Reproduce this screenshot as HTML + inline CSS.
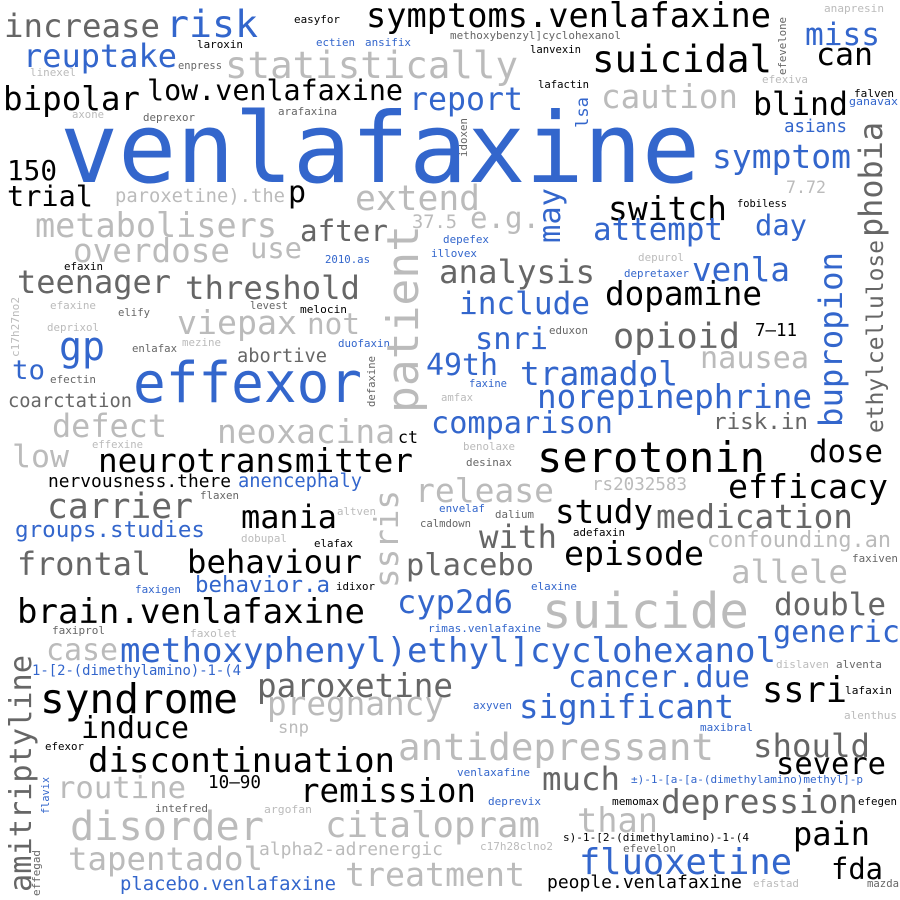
<!DOCTYPE html>
<html><head><meta charset="utf-8"><style>
html,body{margin:0;padding:0;background:#fff;width:900px;height:900px;overflow:hidden}
svg{display:block}
text{font-family:"DejaVu Sans Mono","Liberation Mono",monospace;}
.b{fill:#3366cc}.k{fill:#000}.g{fill:#666}.l{fill:#bbb}
</style></head><body>
<svg width="900" height="900" viewBox="0 0 900 900" xmlns="http://www.w3.org/2000/svg">
<g lengthAdjust="spacingAndGlyphs">
<text class="b" x="60" y="182" font-size="97" textLength="640" lengthAdjust="spacingAndGlyphs">venlafaxine</text>
<text class="g" x="4" y="37" font-size="32" textLength="156" lengthAdjust="spacingAndGlyphs">increase</text>
<text class="b" x="166" y="37" font-size="37" textLength="92" lengthAdjust="spacingAndGlyphs">risk</text>
<text class="k" x="294" y="23" font-size="11" textLength="46" lengthAdjust="spacingAndGlyphs">easyfor</text>
<text class="k" x="366" y="27" font-size="33.5" textLength="405" lengthAdjust="spacingAndGlyphs">symptoms.venlafaxine</text>
<text class="l" x="824" y="12" font-size="11" textLength="60" lengthAdjust="spacingAndGlyphs">anapresin</text>
<text class="b" x="316" y="46" font-size="11" textLength="39" lengthAdjust="spacingAndGlyphs">ectien</text>
<text class="b" x="365" y="46" font-size="11" textLength="46" lengthAdjust="spacingAndGlyphs">ansifix</text>
<text class="g" x="450" y="39" font-size="11" textLength="171" lengthAdjust="spacingAndGlyphs">methoxybenzyl]cyclohexanol</text>
<text class="k" x="530" y="53" font-size="11" textLength="51" lengthAdjust="spacingAndGlyphs">lanvexin</text>
<text class="g" font-size="11" textLength="58" lengthAdjust="spacingAndGlyphs" transform="translate(786,75) rotate(-90)">efevelone</text>
<text class="b" x="805" y="45" font-size="31" textLength="75" lengthAdjust="spacingAndGlyphs">miss</text>
<text class="k" x="816" y="65" font-size="31" textLength="57" lengthAdjust="spacingAndGlyphs">can</text>
<text class="k" x="592" y="72" font-size="37" textLength="180" lengthAdjust="spacingAndGlyphs">suicidal</text>
<text class="l" x="225" y="78" font-size="37" textLength="293" lengthAdjust="spacingAndGlyphs">statistically</text>
<text class="k" x="197" y="48" font-size="11" textLength="46" lengthAdjust="spacingAndGlyphs">laroxin</text>
<text class="b" x="23" y="67" font-size="32" textLength="154" lengthAdjust="spacingAndGlyphs">reuptake</text>
<text class="g" x="178" y="69" font-size="11" textLength="44" lengthAdjust="spacingAndGlyphs">enpress</text>
<text class="l" x="30" y="76" font-size="11" textLength="46" lengthAdjust="spacingAndGlyphs">linexel</text>
<text class="k" x="538" y="88" font-size="11" textLength="51" lengthAdjust="spacingAndGlyphs">lafactin</text>
<text class="l" x="762" y="83" font-size="11" textLength="46" lengthAdjust="spacingAndGlyphs">efexiva</text>
<text class="k" x="854" y="97" font-size="11" textLength="40" lengthAdjust="spacingAndGlyphs">falven</text>
<text class="b" x="849" y="105" font-size="11" textLength="49" lengthAdjust="spacingAndGlyphs">ganavax</text>
<text class="k" x="3" y="110" font-size="32.5" textLength="137" lengthAdjust="spacingAndGlyphs">bipolar</text>
<text class="k" x="147" y="100" font-size="28.4" textLength="256" lengthAdjust="spacingAndGlyphs">low.venlafaxine</text>
<text class="b" x="409" y="110" font-size="31.6" textLength="114" lengthAdjust="spacingAndGlyphs">report</text>
<text class="l" x="601" y="108" font-size="32.5" textLength="137" lengthAdjust="spacingAndGlyphs">caution</text>
<text class="k" x="753" y="115" font-size="31.6" textLength="95" lengthAdjust="spacingAndGlyphs">blind</text>
<text class="b" font-size="17" textLength="31" lengthAdjust="spacingAndGlyphs" transform="translate(588,128) rotate(-90)">lsa</text>
<text class="g" x="278" y="115" font-size="11" textLength="59" lengthAdjust="spacingAndGlyphs">arafaxina</text>
<text class="l" x="72" y="118" font-size="11" textLength="32" lengthAdjust="spacingAndGlyphs">axone</text>
<text class="g" x="143" y="121" font-size="11" textLength="52" lengthAdjust="spacingAndGlyphs">deprexor</text>
<text class="g" font-size="11" textLength="39" lengthAdjust="spacingAndGlyphs" transform="translate(467,157) rotate(-90)">idoxen</text>
<text class="b" x="784" y="132" font-size="17.4" textLength="63" lengthAdjust="spacingAndGlyphs">asians</text>
<text class="g" font-size="32" textLength="115" lengthAdjust="spacingAndGlyphs" transform="translate(882,237) rotate(-90)">phobia</text>
<text class="b" x="712" y="168" font-size="33" textLength="139" lengthAdjust="spacingAndGlyphs">symptom</text>
<text class="l" x="786" y="193" font-size="16.6" textLength="40" lengthAdjust="spacingAndGlyphs">7.72</text>
<text class="k" x="7" y="180" font-size="27.7" textLength="50" lengthAdjust="spacingAndGlyphs">150</text>
<text class="k" x="7" y="206" font-size="28.6" textLength="86" lengthAdjust="spacingAndGlyphs">trial</text>
<text class="l" x="115" y="202" font-size="18.8" textLength="170" lengthAdjust="spacingAndGlyphs">paroxetine).the</text>
<text class="k" x="288" y="202" font-size="30">p</text>
<text class="l" x="355" y="210" font-size="34.6" textLength="125" lengthAdjust="spacingAndGlyphs">extend</text>
<text class="l" x="412" y="228" font-size="18.7" textLength="45" lengthAdjust="spacingAndGlyphs">37.5</text>
<text class="l" x="470" y="228" font-size="29" textLength="70" lengthAdjust="spacingAndGlyphs">e.g.</text>
<text class="b" font-size="30" textLength="55" lengthAdjust="spacingAndGlyphs" transform="translate(560,243) rotate(-90)">may</text>
<text class="k" x="608" y="220" font-size="33" textLength="119" lengthAdjust="spacingAndGlyphs">switch</text>
<text class="k" x="737" y="207" font-size="10.5" textLength="50" lengthAdjust="spacingAndGlyphs">fobiless</text>
<text class="b" x="593" y="240" font-size="31" textLength="130" lengthAdjust="spacingAndGlyphs">attempt</text>
<text class="b" x="755" y="235" font-size="28.6" textLength="52" lengthAdjust="spacingAndGlyphs">day</text>
<text class="l" x="35" y="237" font-size="33.5" textLength="242" lengthAdjust="spacingAndGlyphs">metabolisers</text>
<text class="g" x="300" y="241" font-size="29" textLength="88" lengthAdjust="spacingAndGlyphs">after</text>
<text class="l" x="73" y="262" font-size="32.6" textLength="157" lengthAdjust="spacingAndGlyphs">overdose</text>
<text class="l" x="250" y="258" font-size="28.7" textLength="52" lengthAdjust="spacingAndGlyphs">use</text>
<text class="b" x="325" y="263" font-size="11" textLength="45" lengthAdjust="spacingAndGlyphs">2010.as</text>
<text class="k" x="64" y="270" font-size="11" textLength="39" lengthAdjust="spacingAndGlyphs">efaxin</text>
<text class="g" x="17" y="293" font-size="32" textLength="154" lengthAdjust="spacingAndGlyphs">teenager</text>
<text class="g" x="185" y="299" font-size="32.3" textLength="175" lengthAdjust="spacingAndGlyphs">threshold</text>
<text class="l" font-size="11" textLength="60" lengthAdjust="spacingAndGlyphs" transform="translate(19,357) rotate(-90)">c17h27no2</text>
<text class="l" x="50" y="309" font-size="11" textLength="46" lengthAdjust="spacingAndGlyphs">efaxine</text>
<text class="g" x="118" y="316" font-size="11" textLength="32" lengthAdjust="spacingAndGlyphs">elify</text>
<text class="g" x="250" y="309" font-size="11" textLength="38" lengthAdjust="spacingAndGlyphs">levest</text>
<text class="k" x="300" y="313" font-size="11" textLength="47" lengthAdjust="spacingAndGlyphs">melocin</text>
<text class="l" x="47" y="331" font-size="11" textLength="52" lengthAdjust="spacingAndGlyphs">deprixol</text>
<text class="l" x="177" y="334" font-size="33" textLength="120" lengthAdjust="spacingAndGlyphs">viepax</text>
<text class="l" x="307" y="334" font-size="29" textLength="53" lengthAdjust="spacingAndGlyphs">not</text>
<text class="b" x="59" y="360" font-size="40" textLength="46" lengthAdjust="spacingAndGlyphs">gp</text>
<text class="g" x="132" y="352" font-size="11" textLength="45" lengthAdjust="spacingAndGlyphs">enlafax</text>
<text class="l" x="182" y="346" font-size="11" textLength="39" lengthAdjust="spacingAndGlyphs">mezine</text>
<text class="g" x="237" y="362" font-size="18.7" textLength="90" lengthAdjust="spacingAndGlyphs">abortive</text>
<text class="b" x="338" y="347" font-size="11" textLength="52" lengthAdjust="spacingAndGlyphs">duofaxin</text>
<text class="b" x="12" y="379" font-size="27" textLength="33" lengthAdjust="spacingAndGlyphs">to</text>
<text class="g" x="50" y="383" font-size="11" textLength="46" lengthAdjust="spacingAndGlyphs">efectin</text>
<text class="b" x="133" y="402" font-size="56" textLength="229" lengthAdjust="spacingAndGlyphs">effexor</text>
<text class="g" font-size="11" textLength="51" lengthAdjust="spacingAndGlyphs" transform="translate(375,407) rotate(-90)">defaxine</text>
<text class="l" font-size="44" textLength="188" lengthAdjust="spacingAndGlyphs" transform="translate(418,413) rotate(-90)">patient</text>
<text class="g" x="8" y="407" font-size="18.7" textLength="124" lengthAdjust="spacingAndGlyphs">coarctation</text>
<text class="l" x="52" y="437" font-size="31.8" textLength="115" lengthAdjust="spacingAndGlyphs">defect</text>
<text class="l" x="92" y="448" font-size="11" textLength="51" lengthAdjust="spacingAndGlyphs">effexine</text>
<text class="l" x="217" y="443" font-size="32.8" textLength="178" lengthAdjust="spacingAndGlyphs">neoxacina</text>
<text class="k" x="398" y="443" font-size="17" textLength="20" lengthAdjust="spacingAndGlyphs">ct</text>
<text class="l" x="12" y="467" font-size="31" textLength="57" lengthAdjust="spacingAndGlyphs">low</text>
<text class="k" x="98" y="472" font-size="32.7" textLength="315" lengthAdjust="spacingAndGlyphs">neurotransmitter</text>
<text class="k" x="48" y="487" font-size="17.9" textLength="183" lengthAdjust="spacingAndGlyphs">nervousness.there</text>
<text class="b" x="238" y="487" font-size="18.7" textLength="124" lengthAdjust="spacingAndGlyphs">anencephaly</text>
<text class="g" x="200" y="499" font-size="11" textLength="39" lengthAdjust="spacingAndGlyphs">flaxen</text>
<text class="g" x="47" y="518" font-size="34.6" textLength="146" lengthAdjust="spacingAndGlyphs">carrier</text>
<text class="k" x="241" y="528" font-size="32" textLength="96" lengthAdjust="spacingAndGlyphs">mania</text>
<text class="l" x="337" y="515" font-size="11" textLength="39" lengthAdjust="spacingAndGlyphs">altven</text>
<text class="l" font-size="32.6" textLength="98" lengthAdjust="spacingAndGlyphs" transform="translate(398,588) rotate(-90)">ssris</text>
<text class="b" x="15" y="537" font-size="22.5" textLength="190" lengthAdjust="spacingAndGlyphs">groups.studies</text>
<text class="l" x="241" y="542" font-size="11" textLength="46" lengthAdjust="spacingAndGlyphs">dobupal</text>
<text class="k" x="314" y="547" font-size="11" textLength="39" lengthAdjust="spacingAndGlyphs">elafax</text>
<text class="g" x="17" y="575" font-size="31.8" textLength="134" lengthAdjust="spacingAndGlyphs">frontal</text>
<text class="k" x="187" y="573" font-size="32.3" textLength="175" lengthAdjust="spacingAndGlyphs">behaviour</text>
<text class="b" x="135" y="593" font-size="11" textLength="46" lengthAdjust="spacingAndGlyphs">faxigen</text>
<text class="b" x="195" y="592" font-size="22.4" textLength="135" lengthAdjust="spacingAndGlyphs">behavior.a</text>
<text class="k" x="336" y="590" font-size="11" textLength="39" lengthAdjust="spacingAndGlyphs">idixor</text>
<text class="b" x="443" y="243" font-size="11" textLength="46" lengthAdjust="spacingAndGlyphs">depefex</text>
<text class="b" x="431" y="257" font-size="11" textLength="46" lengthAdjust="spacingAndGlyphs">illovex</text>
<text class="g" x="439" y="283" font-size="32.4" textLength="156" lengthAdjust="spacingAndGlyphs">analysis</text>
<text class="l" x="638" y="261" font-size="11" textLength="46" lengthAdjust="spacingAndGlyphs">depurol</text>
<text class="b" x="624" y="277" font-size="11" textLength="65" lengthAdjust="spacingAndGlyphs">depretaxer</text>
<text class="b" x="692" y="281" font-size="32.6" textLength="98" lengthAdjust="spacingAndGlyphs">venla</text>
<text class="k" x="605" y="305" font-size="32.6" textLength="157" lengthAdjust="spacingAndGlyphs">dopamine</text>
<text class="b" x="459" y="314" font-size="31" textLength="131" lengthAdjust="spacingAndGlyphs">include</text>
<text class="b" font-size="32.3" textLength="175" lengthAdjust="spacingAndGlyphs" transform="translate(842,427) rotate(-90)">bupropion</text>
<text class="g" font-size="22.9" textLength="193" lengthAdjust="spacingAndGlyphs" transform="translate(883,433) rotate(-90)">ethylcellulose</text>
<text class="g" x="549" y="334" font-size="11" textLength="39" lengthAdjust="spacingAndGlyphs">eduxon</text>
<text class="b" x="475" y="349" font-size="30.3" textLength="73" lengthAdjust="spacingAndGlyphs">snri</text>
<text class="g" x="613" y="348" font-size="35" textLength="127" lengthAdjust="spacingAndGlyphs">opioid</text>
<text class="k" x="755" y="336" font-size="17.4" textLength="42" lengthAdjust="spacingAndGlyphs">7–11</text>
<text class="b" x="426" y="375" font-size="30" textLength="72" lengthAdjust="spacingAndGlyphs">49th</text>
<text class="b" x="520" y="385" font-size="32.8" textLength="158" lengthAdjust="spacingAndGlyphs">tramadol</text>
<text class="l" x="700" y="368" font-size="30" textLength="109" lengthAdjust="spacingAndGlyphs">nausea</text>
<text class="b" x="469" y="387" font-size="11" textLength="38" lengthAdjust="spacingAndGlyphs">faxine</text>
<text class="l" x="441" y="401" font-size="11" textLength="32" lengthAdjust="spacingAndGlyphs">amfax</text>
<text class="b" x="537" y="408" font-size="32.6" textLength="275" lengthAdjust="spacingAndGlyphs">norepinephrine</text>
<text class="b" x="431" y="433" font-size="30.2" textLength="182" lengthAdjust="spacingAndGlyphs">comparison</text>
<text class="g" x="713" y="429" font-size="22.5" textLength="95" lengthAdjust="spacingAndGlyphs">risk.in</text>
<text class="l" x="463" y="450" font-size="11" textLength="52" lengthAdjust="spacingAndGlyphs">benolaxe</text>
<text class="g" x="466" y="466" font-size="11" textLength="46" lengthAdjust="spacingAndGlyphs">desinax</text>
<text class="k" x="537" y="472" font-size="42" textLength="228" lengthAdjust="spacingAndGlyphs">serotonin</text>
<text class="k" x="809" y="462" font-size="30.7" textLength="74" lengthAdjust="spacingAndGlyphs">dose</text>
<text class="l" x="415" y="502" font-size="33" textLength="139" lengthAdjust="spacingAndGlyphs">release</text>
<text class="l" x="592" y="490" font-size="17.5" textLength="95" lengthAdjust="spacingAndGlyphs">rs2032583</text>
<text class="k" x="728" y="498" font-size="33.2" textLength="160" lengthAdjust="spacingAndGlyphs">efficacy</text>
<text class="b" x="439" y="512" font-size="11" textLength="46" lengthAdjust="spacingAndGlyphs">envelaf</text>
<text class="g" x="495" y="518" font-size="11" textLength="39" lengthAdjust="spacingAndGlyphs">dalium</text>
<text class="g" x="420" y="527" font-size="11" textLength="51" lengthAdjust="spacingAndGlyphs">calmdown</text>
<text class="k" x="555" y="523" font-size="32.6" textLength="98" lengthAdjust="spacingAndGlyphs">study</text>
<text class="g" x="656" y="528" font-size="32.7" textLength="197" lengthAdjust="spacingAndGlyphs">medication</text>
<text class="k" x="573" y="536" font-size="11" textLength="52" lengthAdjust="spacingAndGlyphs">adefaxin</text>
<text class="g" x="479" y="548" font-size="32.4" textLength="78" lengthAdjust="spacingAndGlyphs">with</text>
<text class="l" x="707" y="547" font-size="21.8" textLength="184" lengthAdjust="spacingAndGlyphs">confounding.an</text>
<text class="g" x="852" y="562" font-size="11" textLength="46" lengthAdjust="spacingAndGlyphs">faxiven</text>
<text class="k" x="564" y="565" font-size="33.2" textLength="140" lengthAdjust="spacingAndGlyphs">episode</text>
<text class="g" x="406" y="575" font-size="30.4" textLength="128" lengthAdjust="spacingAndGlyphs">placebo</text>
<text class="l" x="731" y="583" font-size="32.4" textLength="117" lengthAdjust="spacingAndGlyphs">allele</text>
<text class="b" x="531" y="590" font-size="11" textLength="46" lengthAdjust="spacingAndGlyphs">elaxine</text>
<text class="k" x="17" y="623" font-size="34" textLength="348" lengthAdjust="spacingAndGlyphs">brain.venlafaxine</text>
<text class="b" x="397" y="613" font-size="32" textLength="116" lengthAdjust="spacingAndGlyphs">cyp2d6</text>
<text class="l" x="542" y="628" font-size="49" textLength="207" lengthAdjust="spacingAndGlyphs">suicide</text>
<text class="g" x="774" y="615" font-size="31" textLength="112" lengthAdjust="spacingAndGlyphs">double</text>
<text class="g" x="52" y="634" font-size="11" textLength="53" lengthAdjust="spacingAndGlyphs">faxiprol</text>
<text class="l" x="190" y="637" font-size="11" textLength="47" lengthAdjust="spacingAndGlyphs">faxolet</text>
<text class="b" x="428" y="632" font-size="11" textLength="113" lengthAdjust="spacingAndGlyphs">rimas.venlafaxine</text>
<text class="b" x="773" y="642" font-size="30" textLength="127" lengthAdjust="spacingAndGlyphs">generic</text>
<text class="l" x="46" y="660" font-size="30" textLength="72" lengthAdjust="spacingAndGlyphs">case</text>
<text class="b" x="120" y="662" font-size="34" textLength="656" lengthAdjust="spacingAndGlyphs">methoxyphenyl)ethyl]cyclohexanol</text>
<text class="g" font-size="30.3" textLength="237" lengthAdjust="spacingAndGlyphs" transform="translate(31,892) rotate(-90)">amitriptyline</text>
<text class="l" x="776" y="668" font-size="11" textLength="53" lengthAdjust="spacingAndGlyphs">dislaven</text>
<text class="g" x="836" y="668" font-size="11" textLength="46" lengthAdjust="spacingAndGlyphs">alventa</text>
<text class="b" x="32" y="675" font-size="13.9" textLength="209" lengthAdjust="spacingAndGlyphs">1-[2-(dimethylamino)-1-(4</text>
<text class="b" x="568" y="687" font-size="30" textLength="182" lengthAdjust="spacingAndGlyphs">cancer.due</text>
<text class="g" x="257" y="697" font-size="32.6" textLength="196" lengthAdjust="spacingAndGlyphs">paroxetine</text>
<text class="k" x="40" y="713" font-size="41" textLength="198" lengthAdjust="spacingAndGlyphs">syndrome</text>
<text class="l" x="267" y="715" font-size="32.7" textLength="177" lengthAdjust="spacingAndGlyphs">pregnancy</text>
<text class="k" x="762" y="702" font-size="35.3" textLength="85" lengthAdjust="spacingAndGlyphs">ssri</text>
<text class="k" x="845" y="694" font-size="11" textLength="47" lengthAdjust="spacingAndGlyphs">lafaxin</text>
<text class="b" x="473" y="709" font-size="11" textLength="39" lengthAdjust="spacingAndGlyphs">axyven</text>
<text class="b" x="519" y="718" font-size="32.5" textLength="215" lengthAdjust="spacingAndGlyphs">significant</text>
<text class="l" x="844" y="719" font-size="11" textLength="53" lengthAdjust="spacingAndGlyphs">alenthus</text>
<text class="l" x="278" y="733" font-size="17" textLength="31" lengthAdjust="spacingAndGlyphs">snp</text>
<text class="k" x="81" y="738" font-size="30" textLength="108" lengthAdjust="spacingAndGlyphs">induce</text>
<text class="b" x="700" y="731" font-size="11" textLength="53" lengthAdjust="spacingAndGlyphs">maxibral</text>
<text class="k" x="45" y="750" font-size="11" textLength="39" lengthAdjust="spacingAndGlyphs">efexor</text>
<text class="l" x="398" y="760" font-size="37.5" textLength="316" lengthAdjust="spacingAndGlyphs">antidepressant</text>
<text class="g" x="753" y="757" font-size="32.4" textLength="117" lengthAdjust="spacingAndGlyphs">should</text>
<text class="k" x="88" y="772" font-size="34" textLength="307" lengthAdjust="spacingAndGlyphs">discontinuation</text>
<text class="k" x="776" y="774" font-size="30.4" textLength="110" lengthAdjust="spacingAndGlyphs">severe</text>
<text class="b" x="457" y="776" font-size="11" textLength="73" lengthAdjust="spacingAndGlyphs">venlaxafine</text>
<text class="b" font-size="10.3" textLength="37" lengthAdjust="spacingAndGlyphs" transform="translate(49,814) rotate(-90)">flavix</text>
<text class="l" x="57" y="798" font-size="30.6" textLength="129" lengthAdjust="spacingAndGlyphs">routine</text>
<text class="k" x="208" y="788" font-size="17.6" textLength="53" lengthAdjust="spacingAndGlyphs">10–90</text>
<text class="g" x="542" y="790" font-size="32" textLength="78" lengthAdjust="spacingAndGlyphs">much</text>
<text class="b" x="631" y="783" font-size="11" textLength="232" lengthAdjust="spacingAndGlyphs">±)-1-[a-[a-(dimethylamino)methyl]-p</text>
<text class="k" x="300" y="802" font-size="32.5" textLength="176" lengthAdjust="spacingAndGlyphs">remission</text>
<text class="b" x="488" y="805" font-size="11" textLength="53" lengthAdjust="spacingAndGlyphs">deprevix</text>
<text class="k" x="612" y="805" font-size="11" textLength="47" lengthAdjust="spacingAndGlyphs">memomax</text>
<text class="g" x="661" y="813" font-size="32.7" textLength="197" lengthAdjust="spacingAndGlyphs">depression</text>
<text class="k" x="858" y="805" font-size="11" textLength="39" lengthAdjust="spacingAndGlyphs">efegen</text>
<text class="g" x="155" y="812" font-size="11" textLength="53" lengthAdjust="spacingAndGlyphs">intefred</text>
<text class="l" x="264" y="813" font-size="11" textLength="48" lengthAdjust="spacingAndGlyphs">argofan</text>
<text class="l" x="70" y="840" font-size="40" textLength="194" lengthAdjust="spacingAndGlyphs">disorder</text>
<text class="l" x="325" y="837" font-size="35.7" textLength="215" lengthAdjust="spacingAndGlyphs">citalopram</text>
<text class="l" x="577" y="832" font-size="33.6" textLength="81" lengthAdjust="spacingAndGlyphs">than</text>
<text class="k" x="793" y="845" font-size="32" textLength="77" lengthAdjust="spacingAndGlyphs">pain</text>
<text class="k" x="563" y="841" font-size="11" textLength="186" lengthAdjust="spacingAndGlyphs">s)-1-[2-(dimethylamino)-1-(4</text>
<text class="l" x="259" y="855" font-size="18" textLength="184" lengthAdjust="spacingAndGlyphs">alpha2-adrenergic</text>
<text class="l" x="480" y="850" font-size="11" textLength="73" lengthAdjust="spacingAndGlyphs">c17h28clno2</text>
<text class="g" x="623" y="852" font-size="11" textLength="53" lengthAdjust="spacingAndGlyphs">efevelon</text>
<text class="l" x="68" y="870" font-size="32.3" textLength="195" lengthAdjust="spacingAndGlyphs">tapentadol</text>
<text class="b" x="579" y="874" font-size="35.4" textLength="213" lengthAdjust="spacingAndGlyphs">fluoxetine</text>
<text class="k" x="831" y="879" font-size="29" textLength="52" lengthAdjust="spacingAndGlyphs">fda</text>
<text class="g" font-size="11" textLength="46" lengthAdjust="spacingAndGlyphs" transform="translate(40,896) rotate(-90)">effegad</text>
<text class="l" x="345" y="886" font-size="33" textLength="180" lengthAdjust="spacingAndGlyphs">treatment</text>
<text class="b" x="120" y="890" font-size="18.9" textLength="216" lengthAdjust="spacingAndGlyphs">placebo.venlafaxine</text>
<text class="k" x="547" y="888" font-size="18" textLength="195" lengthAdjust="spacingAndGlyphs">people.venlafaxine</text>
<text class="l" x="753" y="887" font-size="11" textLength="46" lengthAdjust="spacingAndGlyphs">efastad</text>
<text class="g" x="867" y="887" font-size="10.6" textLength="32" lengthAdjust="spacingAndGlyphs">mazda</text>
</g>
</svg>
</body></html>
